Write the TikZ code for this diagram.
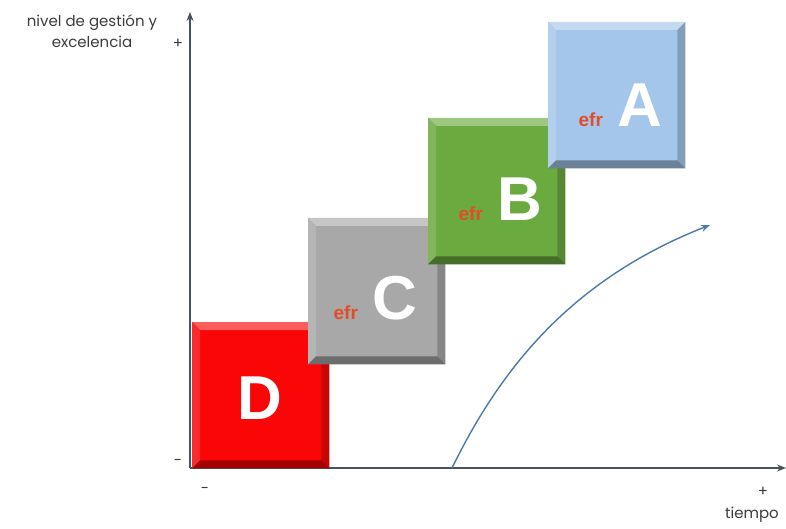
\documentclass[tikz,border=0pt]{standalone}
\usepackage{fontspec}
\setmainfont{Liberation Sans}
\newfontfamily\labelfont{Poppins}
\usetikzlibrary{calc,arrows.meta}
\definecolor{axisgray}{RGB}{70,84,96}
\definecolor{curveblue}{RGB}{76,122,170}
\definecolor{efrred}{RGB}{226,76,40}
\definecolor{boxred}{RGB}{250,6,6}
\definecolor{boxgray}{RGB}{168,168,168}
\definecolor{boxgreen}{RGB}{106,170,62}
\definecolor{boxblue}{RGB}{164,198,234}
\definecolor{labelgray}{RGB}{60,60,60}
\begin{document}
\begin{tikzpicture}[x=1pt, y=-1pt, line join=round]
\tikzstyle{axis} = [draw=axisgray,line width=1.8pt,-{Stealth[length=9pt,width=7pt]}]
\tikzstyle{trend} = [draw=curveblue,line width=1.4pt,-{Stealth[length=9pt,width=7pt]}]
\tikzstyle{grade} = [draw=none,minimum width=137pt,minimum height=146pt,inner sep=0,anchor=north west]
\tikzstyle{letter} = [text=white,font=\fontsize{62}{62}\selectfont\bfseries,inner sep=0]
\tikzstyle{efr} = [text=efrred,font=\fontsize{19}{19}\selectfont\bfseries,inner sep=0,anchor=base east]
\tikzstyle{lbl} = [text=labelgray,font=\labelfont\fontsize{15}{21}\selectfont,inner sep=0]
\useasboundingbox[fill=white] (0,0) rectangle (786,529);
  % axes
  \coordinate (O) at (190,468);
  \coordinate (ytop) at (190,12);
  \coordinate (xend) at (786,468);
  \draw[axis] (O) -- (ytop);
  \draw[axis] (O) -- (xend);
  % the four levels
  \foreach \g/\x/\y/\c/\dx/\dy in {D/192/322/boxred/-1/3,C/308/218/boxgray/18/7,B/428/118/boxgreen/23/8,A/548/22/boxblue/23/10}{
    \node[grade,fill=\c] (box\g) at (\x,\y) {};
    \fill[\c!65!white] (box\g.north west) -- (box\g.north east) -- ($(box\g.north east)+(-8,8)$) -- ($(box\g.north west)+(8,8)$) -- cycle;
    \fill[\c!85!white] (box\g.north west) -- ($(box\g.north west)+(8,8)$) -- ($(box\g.south west)+(8,-8)$) -- (box\g.south west) -- cycle;
    \fill[\c!80!black] (box\g.north east) -- (box\g.south east) -- ($(box\g.south east)+(-8,-8)$) -- ($(box\g.north east)+(-8,8)$) -- cycle;
    \fill[\c!65!black] (box\g.south west) -- (box\g.south east) -- ($(box\g.south east)+(-8,-8)$) -- ($(box\g.south west)+(8,-8)$) -- cycle;
    \node[letter] (\g) at ($(box\g.center)+(\dx,\dy)$) {\g};
  }
  \node[efr] (efrC) at ([xshift=-14pt]C.base west) {efr};
  \node[efr] (efrB) at ([xshift=-14pt]B.base west) {efr};
  \node[efr] (efrA) at ([xshift=-14pt]A.base west) {efr};
  % trend
  \coordinate (c0) at (452,468);
  \coordinate (c1) at (710,225);
  \draw[trend] (c0) .. controls (500,370) and (570,280) .. (c1);
  % labels
  \node[lbl,align=center] (ylabel) at (92,31) {nivel de gesti\'on y\\excelencia};
  \node[lbl] (yplus) at (178,44) {+};
  \node[lbl] (yminus) at (178,462) {-};
  \node[lbl] (xminus) at (205,490) {-};
  \node[lbl] (xplus) at (763,492) {+};
  \node[lbl] (xlabel) at (752,515) {tiempo};
\end{tikzpicture}
\end{document}
